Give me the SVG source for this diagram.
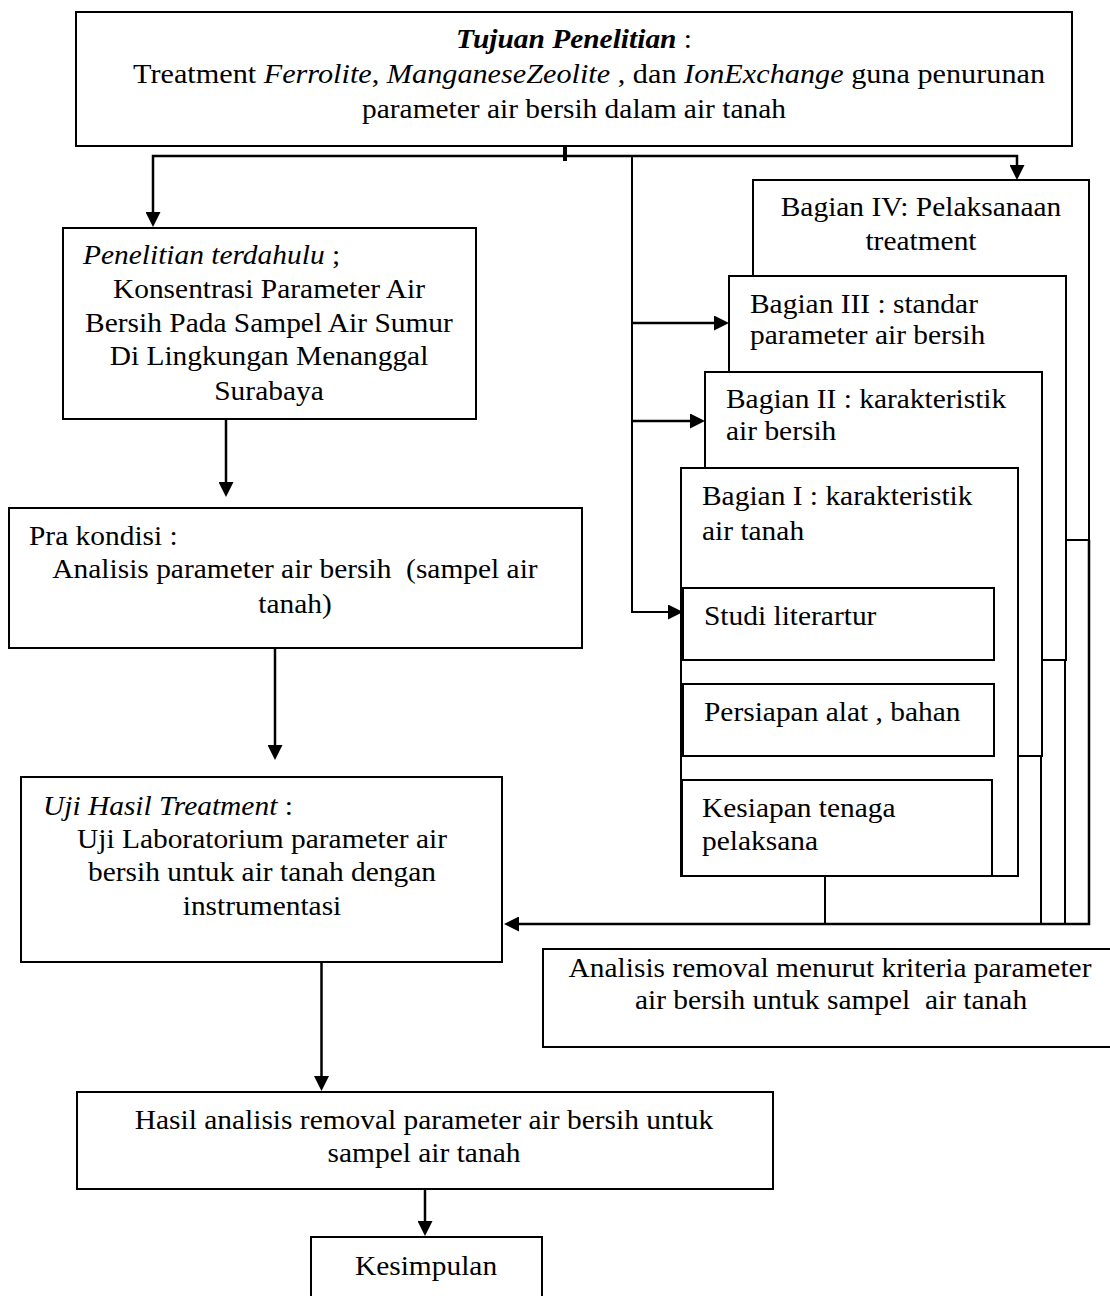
<svg xmlns="http://www.w3.org/2000/svg" width="1110" height="1296" viewBox="0 0 1110 1296">
<style>
.box{fill:#fff;stroke:#000;stroke-width:2}
.c{fill:none;stroke:#000;stroke-width:2.5}
.cm{fill:none;stroke:#000;stroke-width:2}
text{font-family:"Liberation Serif","Times New Roman",serif;font-size:27px;fill:#000}
.m{text-anchor:middle}
.i{font-style:italic}
.b{font-weight:bold}
</style>
<defs>
<marker id="ah" viewBox="0 0 10 10" refX="4" refY="5" markerWidth="15" markerHeight="15" markerUnits="userSpaceOnUse" orient="auto">
<path d="M0,0 L10,5 L0,10 z" fill="#000"/>
</marker>
</defs>
<rect width="1110" height="1296" fill="#fff"/>

<g id="tujuan">
<rect class="box" x="76" y="12" width="996" height="134"/>
<text class="m" transform="matrix(1.09 0 0 1 574 0)" x="0" y="48"><tspan class="b i">Tujuan Penelitian</tspan> :</text>
<text transform="matrix(1.12 0 0 1 133 0)" x="0" y="83">Treatment <tspan class="i">Ferrolite</tspan>, <tspan class="i">ManganeseZeolite</tspan> , dan <tspan class="i">IonExchange</tspan> guna penurunan</text>
<text class="m" transform="matrix(1.09 0 0 1 574 0)" x="0" y="118">parameter air bersih dalam air tanah</text>
</g>

<g id="connectors">
<path class="c" d="M565,156 H153 V218" marker-end="url(#ah)"/>
<path class="c" d="M565,156 H1017 V171" marker-end="url(#ah)"/>
<path d="M565,146 V161" stroke="#000" stroke-width="4" fill="none"/>
<path class="cm" d="M632,156 V612 H674" marker-end="url(#ah)"/>
<path class="c" d="M632,323 H720" marker-end="url(#ah)"/>
<path class="c" d="M632,421 H696" marker-end="url(#ah)"/>
<path class="c" d="M226,419 V488" marker-end="url(#ah)"/>
<path class="c" d="M275,648 V751" marker-end="url(#ah)"/>
<path class="c" d="M1089,540 V924 H513" marker-end="url(#ah)"/>
<path class="cm" d="M1065,660 V924"/>
<path class="cm" d="M1041,756 V924"/>
<path class="cm" d="M825,876 V924"/>
<path class="c" d="M321.5,962 V1082" marker-end="url(#ah)"/>
<path class="c" d="M425,1189 V1227" marker-end="url(#ah)"/>
</g>

<g id="penelitian">
<rect class="box" x="63" y="228" width="413" height="191"/>
<text transform="matrix(1.09 0 0 1 83 0)" x="0" y="264"><tspan class="i">Penelitian terdahulu</tspan> ;</text>
<text class="m" transform="matrix(1.09 0 0 1 269 0)" x="0" y="298">Konsentrasi Parameter Air</text>
<text class="m" transform="matrix(1.09 0 0 1 269 0)" x="0" y="332">Bersih Pada Sampel Air Sumur</text>
<text class="m" transform="matrix(1.09 0 0 1 269 0)" x="0" y="365">Di Lingkungan Menanggal</text>
<text class="m" transform="matrix(1.09 0 0 1 269 0)" x="0" y="400">Surabaya</text>
</g>

<g id="prakondisi">
<rect class="box" x="9" y="508" width="573" height="140"/>
<text transform="matrix(1.09 0 0 1 29 0)" x="0" y="545">Pra kondisi :</text>
<text class="m" transform="matrix(1.09 0 0 1 295 0)" x="0" y="578" xml:space="preserve">Analisis parameter air bersih  (sampel air</text>
<text class="m" transform="matrix(1.09 0 0 1 295 0)" x="0" y="613">tanah)</text>
</g>

<g id="ujihasil">
<rect class="box" x="21" y="777" width="481" height="185"/>
<text transform="matrix(1.09 0 0 1 43 0)" x="0" y="815"><tspan class="i">Uji Hasil Treatment</tspan> :</text>
<text class="m" transform="matrix(1.09 0 0 1 262 0)" x="0" y="848">Uji Laboratorium parameter air</text>
<text class="m" transform="matrix(1.09 0 0 1 262 0)" x="0" y="881">bersih untuk air tanah dengan</text>
<text class="m" transform="matrix(1.09 0 0 1 262 0)" x="0" y="915">instrumentasi</text>
</g>

<g id="bagian4">
<rect class="box" x="753" y="180" width="336" height="360"/>
<text class="m" transform="matrix(1.09 0 0 1 921 0)" x="0" y="216">Bagian IV: Pelaksanaan</text>
<text class="m" transform="matrix(1.09 0 0 1 921 0)" x="0" y="250">treatment</text>
</g>

<g id="bagian3">
<rect class="box" x="729" y="276" width="337" height="384"/>
<text transform="matrix(1.09 0 0 1 750 0)" x="0" y="313">Bagian III : standar</text>
<text transform="matrix(1.09 0 0 1 750 0)" x="0" y="344">parameter air bersih</text>
</g>

<g id="bagian2">
<rect class="box" x="705" y="372" width="337" height="384"/>
<text transform="matrix(1.09 0 0 1 726 0)" x="0" y="408">Bagian II : karakteristik</text>
<text transform="matrix(1.09 0 0 1 726 0)" x="0" y="440">air bersih</text>
</g>

<g id="bagian1">
<rect class="box" x="681" y="468" width="337" height="408"/>
<text transform="matrix(1.09 0 0 1 702 0)" x="0" y="505">Bagian I : karakteristik</text>
<text transform="matrix(1.09 0 0 1 702 0)" x="0" y="540">air tanah</text>
</g>

<g id="studi">
<rect class="box" x="683" y="588" width="311" height="72"/>
<text transform="matrix(1.09 0 0 1 704 0)" x="0" y="625">Studi literartur</text>
</g>

<g id="persiapan">
<rect class="box" x="683" y="684" width="311" height="72"/>
<text transform="matrix(1.09 0 0 1 704 0)" x="0" y="721">Persiapan alat , bahan</text>
</g>

<g id="kesiapan">
<rect class="box" x="682" y="780" width="310" height="96"/>
<text transform="matrix(1.09 0 0 1 702 0)" x="0" y="817">Kesiapan tenaga</text>
<text transform="matrix(1.09 0 0 1 702 0)" x="0" y="850">pelaksana</text>
</g>

<g id="analisis">
<rect class="box" x="543" y="949" width="575" height="98"/>
<text class="m" transform="matrix(1.09 0 0 1 830 0)" x="0" y="977">Analisis removal menurut kriteria parameter</text>
<text class="m" transform="matrix(1.09 0 0 1 831 0)" x="0" y="1009" xml:space="preserve">air bersih untuk sampel  air tanah</text>
</g>

<g id="hasil">
<rect class="box" x="77" y="1092" width="696" height="97"/>
<text class="m" transform="matrix(1.09 0 0 1 424 0)" x="0" y="1129">Hasil analisis removal parameter air bersih untuk</text>
<text class="m" transform="matrix(1.09 0 0 1 424 0)" x="0" y="1162">sampel air tanah</text>
</g>

<g id="kesimpulan">
<rect class="box" x="311" y="1237" width="231" height="70"/>
<text class="m" transform="matrix(1.09 0 0 1 426 0)" x="0" y="1275">Kesimpulan</text>
</g>
</svg>
